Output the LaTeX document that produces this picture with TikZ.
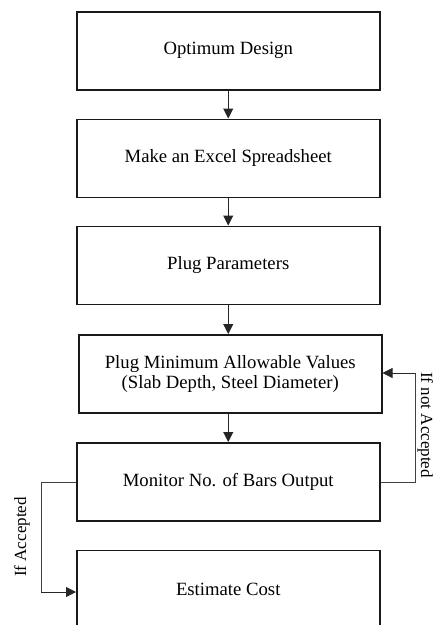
\documentclass[tikz,border=0pt]{standalone}
\usepackage{fontspec}
\setmainfont{Liberation Serif}
\usetikzlibrary{arrows.meta}
\begin{document}
\begin{tikzpicture}[x=1pt,y=-1pt,
  stepbox/.style={draw=black!90,line width=1.5pt,minimum width=303pt,minimum height=78pt,inner sep=0pt,
    font=\fontsize{18.7}{20.5}\selectfont,align=center,anchor=north west},
  flow/.style={draw=black!85,line width=1pt,-{Triangle[length=10pt,width=10pt]}},
  loop/.style={draw=black!75,line width=0.8pt},
  lbl/.style={font=\fontsize{17}{19}\selectfont,inner sep=0pt}]
\clip (0,0) rectangle (435,625);
\useasboundingbox (0,0) rectangle (435,625);
\node[stepbox] (b1) at (76,11) {Optimum Design};
\node[stepbox] (b2) at (76,118.5) {Make an Excel Spreadsheet};
\node[stepbox] (b3) at (76,225.5) {Plug Parameters};
\node[stepbox] (b4) at (78,334) {Plug Minimum Allowable Values\\(Slab Depth, Steel Diameter)};
\node[stepbox] (b5) at (76,442) {Monitor No. of Bars Output};
\node[stepbox] (b6) at (76,549.5) {Estimate Cost};
\draw[flow] (b1.south) -- (b2.north);
\draw[flow] (b2.south) -- (b3.north);
\draw[flow] (b3.south) -- (b4.north -| b3.south);
\draw[flow] (b4.south -| b3.south) -- (b5.north);
\coordinate (r1) at (415,482);
\coordinate (r2) at (415,373);
\draw[loop] (b5.east |- r1) -- (r1) -- (r2);
\draw[flow,line width=0.8pt] (r2) -- (b4.east |- r2);
\coordinate (l1) at (41,482);
\coordinate (l2) at (41,592);
\draw[loop] (b5.west |- l1) -- (l1) -- (l2);
\draw[flow,line width=0.8pt] (l2) -- (b6.west |- l2);
\node[lbl,rotate=-90,anchor=base west] (ln) at (421,372) {If not Accepted};
\node[lbl,rotate=90] (la) at (22,537) {If Accepted};
\end{tikzpicture}
\end{document}
